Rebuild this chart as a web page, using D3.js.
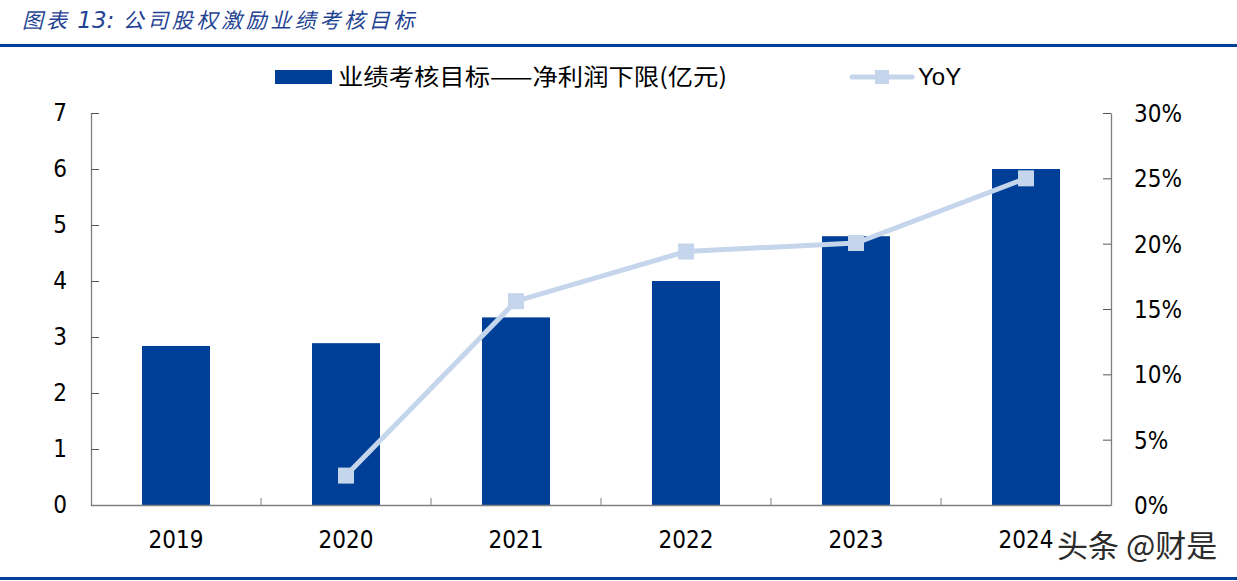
<!DOCTYPE html>
<html>
<head>
<meta charset="utf-8">
<script src="https://cdn.jsdelivr.net/npm/d3@7"></script>
<style>
    body { margin: 0; background: #fff; }
    svg { display: block; }
</style>
</head>
<body>
<svg id="chart"></svg>
<script>
"use strict";

// Chart data
const years = ["2019", "2020", "2021", "2022", "2023", "2024"];
const profitTarget = [2.84, 2.89, 3.35, 4.0, 4.8, 6.0];
const yoy = [null, 2.25, 15.6, 19.4, 20.05, 25.0];
const leftTicks = [0, 1, 2, 3, 4, 5, 6, 7];
const rightTicks = [0, 5, 10, 15, 20, 25, 30];

const barName = "业绩考核目标——净利润下限(亿元)",
    lineName = "YoY",
    titleText = "公司股权激励业绩考核目标";

const width = 1237, height = 581;
const margin = {top: 113, right: 126, bottom: 76, left: 91};
const barColor = "#003f97", lineColor = "#c4d5ec", ruleColor = "#003f97";
const numFont = "'DejaVu Sans Condensed', 'DejaVu Sans', sans-serif";
const cjkFont = "'Noto Sans CJK SC', sans-serif";

const svg = d3.select("#chart")
    .attr("width", width)
    .attr("height", height);

// Title + rules
const title = svg.append("text")
    .attr("x", 22)
    .attr("y", 28)
    .attr("fill", "#1f4393")
    .style("font-style", "italic");
title.append("tspan").text("图表").style("font-family", cjkFont).style("font-size", "21px")
    .attr("letter-spacing", 3);
title.append("tspan").text(" 13:").style("font-family", "'DejaVu Sans', sans-serif").style("font-size", "23px");
title.append("tspan").text(" " + titleText).style("font-family", cjkFont).style("font-size", "21px")
    .attr("letter-spacing", 3.6);

svg.append("rect").attr("x", 0).attr("y", 44).attr("width", width).attr("height", 3).attr("fill", ruleColor);
svg.append("rect").attr("x", 0).attr("y", 577).attr("width", width).attr("height", 3).attr("fill", ruleColor);

// Scales
const x = d3.scaleBand()
    .domain(years)
    .range([margin.left, width - margin.right])
    .paddingInner(0.6)
    .paddingOuter(0.3);

const yLeft = d3.scaleLinear().domain([0, 7]).range([height - margin.bottom, margin.top]);
const yRight = d3.scaleLinear().domain([0, 30]).range([height - margin.bottom, margin.top]);

// Bars
svg.append("g")
    .selectAll("rect")
    .data(years)
    .join("rect")
    .attr("x", (d) => x(d))
    .attr("y", (d, i) => yLeft(profitTarget[i]))
    .attr("width", x.bandwidth())
    .attr("height", (d, i) => yLeft(0) - yLeft(profitTarget[i]))
    .attr("fill", barColor);

// Axes
const leftAxis = svg.append("g")
    .attr("transform", `translate(${margin.left},0)`)
    .call(d3.axisLeft(yLeft).tickValues(leftTicks).tickFormat(d3.format("d"))
        .tickSizeInner(-8).tickSizeOuter(0).tickPadding(24));

const rightAxis = svg.append("g")
    .attr("transform", `translate(${width - margin.right},0)`)
    .call(d3.axisRight(yRight).tickValues(rightTicks).tickFormat((d) => d + "%")
        .tickSizeInner(-8).tickSizeOuter(0).tickPadding(23));

const bottomAxis = svg.append("g")
    .attr("transform", `translate(0,${height - margin.bottom})`)
    .call(d3.axisBottom(x).tickSize(0).tickPadding(26));

// category separator ticks pointing up
const step = x.step();
bottomAxis.selectAll("line.sep")
    .data(years.slice(1))
    .join("line")
    .attr("class", "sep")
    .attr("x1", (d) => x(d) + x.bandwidth() / 2 - step / 2)
    .attr("x2", (d) => x(d) + x.bandwidth() / 2 - step / 2)
    .attr("y1", 0)
    .attr("y2", -7)
    .attr("stroke", "#7f7f7f");

[leftAxis, rightAxis, bottomAxis].forEach((a) => {
    a.selectAll("path.domain").attr("stroke", "#7f7f7f").attr("stroke-width", 1.3);
    a.selectAll(".tick line").attr("stroke", "#555");
    a.selectAll("text")
        .style("font-family", numFont)
        .style("font-size", "24px")
        .attr("fill", "#000");
});
rightAxis.selectAll("text").attr("dy", "0.35em");
bottomAxis.selectAll("text").attr("dy", "0.71em");

// YoY line
const linePoints = years.map((d, i) => ({year: d, value: yoy[i]})).filter((d) => d.value !== null);

svg.append("path")
    .datum(linePoints)
    .attr("fill", "none")
    .attr("stroke", lineColor)
    .attr("stroke-width", 5)
    .attr("d", d3.line()
        .x((d) => x(d.year) + x.bandwidth() / 2)
        .y((d) => yRight(d.value)));

svg.append("g")
    .selectAll("rect")
    .data(linePoints)
    .join("rect")
    .attr("x", (d) => x(d.year) + x.bandwidth() / 2 - 8)
    .attr("y", (d) => yRight(d.value) - 8)
    .attr("width", 16)
    .attr("height", 16)
    .attr("fill", lineColor);

// Legend
const legend = svg.append("g");
legend.append("rect")
    .attr("x", 275).attr("y", 70).attr("width", 57).attr("height", 14)
    .attr("fill", barColor);
legend.append("text")
    .attr("x", 338).attr("y", 77).attr("dy", "0.35em")
    .style("font-family", cjkFont).style("font-size", "23px")
    .attr("textLength", 389).attr("lengthAdjust", "spacingAndGlyphs")
    .text(barName);
legend.append("line")
    .attr("x1", 852).attr("x2", 912).attr("y1", 77).attr("y2", 77)
    .attr("stroke", lineColor).attr("stroke-width", 5).attr("stroke-linecap", "round");
legend.append("rect")
    .attr("x", 875).attr("y", 70).attr("width", 14).attr("height", 14)
    .attr("fill", lineColor);
legend.append("text")
    .attr("x", 918).attr("y", 77).attr("dy", "0.35em")
    .style("font-family", "'Liberation Sans', sans-serif").style("font-size", "24px")
    .text(lineName);

// Watermark
svg.append("text")
    .attr("x", 1057).attr("y", 557)
    .style("font-family", cjkFont).style("font-size", "31px")
    .attr("fill", "#2b2b2b")
    .attr("stroke", "#fff").attr("stroke-width", 3).attr("paint-order", "stroke")
    .text("头条 @财是");
</script>
</body>
</html>
